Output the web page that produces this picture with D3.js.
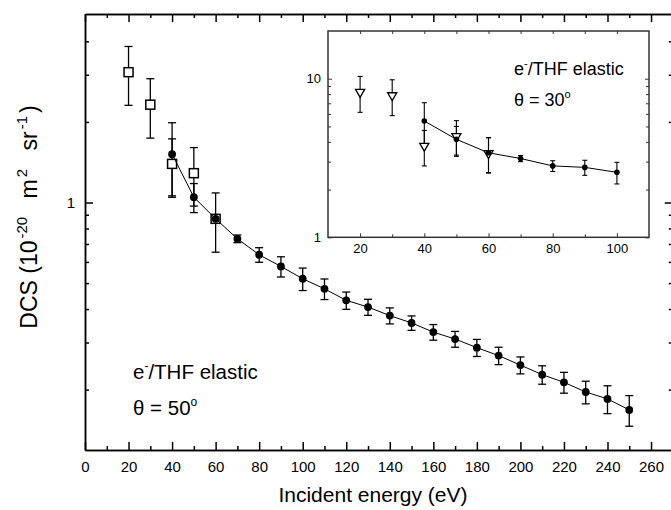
<!DOCTYPE html>
<html><head><meta charset="utf-8">
<script src="https://cdn.jsdelivr.net/npm/d3@7"></script>
<style>
body{margin:0;background:#fff}
svg{display:block}
text{font-family:"Liberation Sans",Arial,Helvetica,sans-serif;fill:#000}
</style>
</head><body>
<svg id="c" width="671" height="510"></svg>
<script>
// ---- data ----
const mainE   = [40,50,60,70,80,90,100,110,120,130,140,150,160,170,180,190,200,210,220,230,240,250];
const mainDCS = [1.516,1.047,0.869,0.732,0.638,0.577,0.519,0.476,0.431,0.407,0.378,0.355,0.328,0.309,0.287,0.268,0.247,0.2275,0.213,0.196,0.1847,0.168];
const mainErr = [0.47,0.13,0.03,0.024,0.04,0.05,0.05,0.042,0.032,0.028,0.026,0.022,0.022,0.021,0.021,0.02,0.018,0.018,0.019,0.019,0.022,0.022];
const sqE   = [20,30,40,50,60];
const sqDCS = [3.067,2.32,1.394,1.287,0.869];
const sqErr = [0.76,0.58,0.335,0.317,0.217];

const insetE   = [40,50,60,70,80,90,100];
const insetDCS = [5.41,4.15,3.41,3.14,2.82,2.76,2.57];
const insetErr = [1.65,0.85,0.85,0.14,0.22,0.3,0.4];
const triE   = [20,30,40,50,60];
const triDCS = [8.24,7.85,3.77,4.34,3.39];
const triErr = [2.1,2.0,0.95,1.1,0.85];

const xMajor = [0,20,40,60,80,100,120,140,160,180,200,220,240,260];
const xMinor = [10,30,50,70,90,110,130,150,170,190,210,230,250];
const yMajor = [1];
const yMinor = [0.2,0.3,0.4,0.5,0.6,0.7,0.8,0.9,2,3,4];
const ixMajor = [20,40,60,80,100];
const ixMinor = [30,50,70,90];
const iyMajor = [1,10];
const iyMinor = [2,3,4,5,6,7,8,9];

// ---- scales ----
const svg = d3.select("#c");
const x = d3.scaleLinear().domain([0,270]).range([85,672.8]);
const y = d3.scaleLog().domain([0.119,5.06]).range([450,14]);
const xi = d3.scaleLinear().domain([10,110]).range([328,649]);
const yi = d3.scaleLog().domain([1,20]).range([237.3,31]);

function styleAxis(g, w){
  g.select(".domain").attr("stroke","#000").attr("stroke-width",w);
  g.selectAll(".tick line").attr("stroke","#000").attr("stroke-width",w);
}

// ---- main axes ----
const fs = "15px";
const gB = svg.append("g").attr("transform","translate(0,450)")
  .call(d3.axisBottom(x).tickValues(xMajor).tickSize(-8).tickSizeOuter(0).tickPadding(11).tickFormat(d3.format("d")));
gB.selectAll("text").style("font-size",fs);
styleAxis(gB,1.5);
svg.append("g").attr("transform","translate(0,450)")
  .call(d3.axisBottom(x).tickValues(xMinor).tickSize(-4).tickSizeOuter(0).tickFormat(""))
  .call(g=>styleAxis(g,1.5));
svg.append("g").attr("transform","translate(0,14)")
  .call(d3.axisTop(x).tickValues(xMajor).tickSize(-8).tickSizeOuter(0).tickFormat(""))
  .call(g=>styleAxis(g,1.5));
svg.append("g").attr("transform","translate(0,14)")
  .call(d3.axisTop(x).tickValues(xMinor).tickSize(-4).tickSizeOuter(0).tickFormat(""))
  .call(g=>styleAxis(g,1.5));

const gL = svg.append("g").attr("transform","translate(85,0)")
  .call(d3.axisLeft(y).tickValues(yMajor).tickSize(-8).tickSizeOuter(0).tickPadding(10).tickFormat(d3.format("d")));
gL.selectAll("text").style("font-size",fs);
styleAxis(gL,1.5);
svg.append("g").attr("transform","translate(85,0)")
  .call(d3.axisLeft(y).tickValues(yMinor).tickSize(-4).tickSizeOuter(0).tickFormat(""))
  .call(g=>styleAxis(g,1.5));
svg.append("g").attr("transform","translate(672.8,0)")
  .call(d3.axisRight(y).tickValues(yMajor).tickSize(-8).tickSizeOuter(0).tickFormat(""))
  .call(g=>styleAxis(g,1.5));
svg.append("g").attr("transform","translate(672.8,0)")
  .call(d3.axisRight(y).tickValues(yMinor).tickSize(-4).tickSizeOuter(0).tickFormat(""))
  .call(g=>styleAxis(g,1.5));

// axis titles
svg.append("text").attr("x",373).attr("y",502).attr("text-anchor","middle")
  .style("font-size","21px").text("Incident energy (eV)");
const yl = svg.append("text").attr("transform","translate(37,217) rotate(-90)")
  .attr("text-anchor","middle").style("font-size","23px");
yl.append("tspan").text("DCS (10");
yl.append("tspan").attr("dx",2).attr("dy",-10).style("font-size","15px").text("-20");
yl.append("tspan").attr("dx",12).attr("dy",10).text(" m");
yl.append("tspan").attr("dx",2).attr("dy",-10).style("font-size","15px").text("2");
yl.append("tspan").attr("dx",12).attr("dy",10).text(" sr");
yl.append("tspan").attr("dx",2).attr("dy",-10).style("font-size","15px").text("-1");
yl.append("tspan").attr("dx",3).attr("dy",10).text(")");

// ---- main data ----
const main = mainE.map((e,i)=>({e, v:mainDCS[i], err:mainErr[i]}));
const sq = sqE.map((e,i)=>({e, v:sqDCS[i], err:sqErr[i]}));

function errBars(g, data, xs, ys, cw, sw){
  const gg = g.append("g").attr("stroke","#000").attr("stroke-width",sw);
  data.forEach(d=>{
    const cx = xs(d.e), y1 = ys(d.v+d.err), y2 = ys(d.v-d.err);
    gg.append("line").attr("x1",cx).attr("x2",cx).attr("y1",y1).attr("y2",y2);
    gg.append("line").attr("x1",cx-cw/2).attr("x2",cx+cw/2).attr("y1",y1).attr("y2",y1);
    gg.append("line").attr("x1",cx-cw/2).attr("x2",cx+cw/2).attr("y1",y2).attr("y2",y2);
  });
}
errBars(svg, sq, x, y, 8, 1.3);
errBars(svg, main, x, y, 8, 1.3);

svg.append("g").selectAll("rect").data(sq).join("rect")
  .attr("x",d=>x(d.e)-4.5).attr("y",d=>y(d.v)-4.5).attr("width",9).attr("height",9)
  .attr("fill","#fff").attr("stroke","#000").attr("stroke-width",1.5);

svg.append("path").datum(main)
  .attr("d", d3.line().x(d=>x(d.e)).y(d=>y(d.v)))
  .attr("fill","none").attr("stroke","#000").attr("stroke-width",1);

svg.append("g").selectAll("circle").data(main).join("circle")
  .attr("cx",d=>x(d.e)).attr("cy",d=>y(d.v)).attr("r",3.9).attr("fill","#000");

// main annotation
const t1 = svg.append("text").attr("x",133).attr("y",379).style("font-size","20.5px");
t1.append("tspan").text("e");
t1.append("tspan").attr("dy",-9).style("font-size","12px").text("-");
t1.append("tspan").attr("dy",9).text("/THF elastic");
const t2 = svg.append("text").attr("x",133).attr("y",415).style("font-size","20.5px");
t2.append("tspan").text("\u03b8 = 50");
t2.append("tspan").attr("dy",-9).style("font-size","12px").text("o");

// ---- inset ----
const ig = svg.append("g");
ig.append("rect").attr("x",328).attr("y",31).attr("width",649-328).attr("height",237.3-31)
  .attr("fill","#fff").attr("stroke","#333").attr("stroke-width",1.5);

function inAxis(axisFn, scale, vals, size, tr){
  const g = ig.append("g").attr("transform",tr)
    .call(axisFn(scale).tickValues(vals).tickSize(size).tickSizeOuter(0).tickFormat(""));
  g.select(".domain").remove();
  g.selectAll(".tick line").attr("stroke","#333").attr("stroke-width",1);
  return g;
}
const ibx = ig.append("g").attr("transform","translate(0,237.3)")
  .call(d3.axisBottom(xi).tickValues(ixMajor).tickSize(-4).tickSizeOuter(0).tickPadding(6).tickFormat(d3.format("d")));
ibx.select(".domain").remove();
ibx.selectAll(".tick line").attr("stroke","#333");
ibx.selectAll("text").style("font-size","13px");
inAxis(d3.axisBottom, xi, ixMinor, -3, "translate(0,237.3)");
inAxis(d3.axisTop, xi, ixMajor.concat(ixMinor), -3, "translate(0,31)");
const ily = ig.append("g").attr("transform","translate(328,0)")
  .call(d3.axisLeft(yi).tickValues(iyMajor).tickSize(-4).tickSizeOuter(0).tickPadding(7).tickFormat(d3.format("d")));
ily.select(".domain").remove();
ily.selectAll(".tick line").attr("stroke","#333");
ily.selectAll("text").style("font-size","13px");
inAxis(d3.axisLeft, yi, iyMinor, -3, "translate(328,0)");
inAxis(d3.axisRight, yi, iyMajor, -4, "translate(649,0)");
inAxis(d3.axisRight, yi, iyMinor, -3, "translate(649,0)");

const ins = insetE.map((e,i)=>({e, v:insetDCS[i], err:insetErr[i]}));
const tri = triE.map((e,i)=>({e, v:triDCS[i], err:triErr[i]}));
errBars(ig, tri, xi, yi, 5, 1.1);
errBars(ig, ins, xi, yi, 5, 1.1);

ig.append("path").datum(ins)
  .attr("d", d3.line().x(d=>xi(d.e)).y(d=>yi(d.v)))
  .attr("fill","none").attr("stroke","#000").attr("stroke-width",1);

const triPath = d3.symbol().type(d3.symbolTriangle).size(36);
ig.append("g").selectAll("path").data(tri).join("path")
  .attr("d", triPath)
  .attr("transform", d=>`translate(${xi(d.e)},${yi(d.v)}) rotate(180)`)
  .attr("fill","#fff").attr("stroke","#000").attr("stroke-width",1.3);

ig.append("g").selectAll("circle").data(ins).join("circle")
  .attr("cx",d=>xi(d.e)).attr("cy",d=>yi(d.v)).attr("r",2.8).attr("fill","#000");

const t3 = ig.append("text").attr("x",514).attr("y",75).style("font-size","18px");
t3.append("tspan").text("e");
t3.append("tspan").attr("dy",-8).style("font-size","11px").text("-");
t3.append("tspan").attr("dy",8).text("/THF elastic");
const t4 = ig.append("text").attr("x",514).attr("y",106).style("font-size","18px");
t4.append("tspan").text("\u03b8 = 30");
t4.append("tspan").attr("dy",-8).style("font-size","11px").text("o");
</script>
</body></html>
